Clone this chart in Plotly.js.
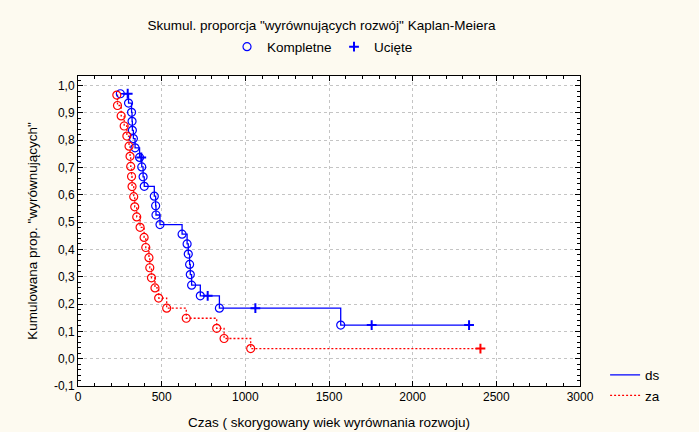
<!DOCTYPE html>
<html>
<head>
<meta charset="utf-8">
<script src="https://cdn.plot.ly/plotly-3.0.1.min.js"></script>
<style>
  html, body { margin: 0; padding: 0; background: #FDFAF0; }
  #chart { width: 699px; height: 432px; }
</style>
</head>
<body>
<div id="chart"></div>
<script>
// ---- data ----
// group "ds" (blue, solid)
const dsEventTimes = [253, 302, 320, 323, 325, 331, 341, 368, 381, 389, 396, 456, 464, 466, 490,
                      622, 652, 659, 667, 671, 679, 731, 845, 1570];
const dsEventSurv  = [0.970, 0.936, 0.902, 0.869, 0.836, 0.806, 0.772, 0.737, 0.702, 0.666, 0.631,
                      0.595, 0.560, 0.526, 0.491, 0.456, 0.420, 0.383, 0.345, 0.308, 0.269, 0.230,
                      0.185, 0.123];
const dsCensTimes  = [297, 378, 775, 1060, 1755, 2337];
const dsCensSurv   = [0.970, 0.737, 0.230, 0.185, 0.123, 0.123];

// group "za" (red, dotted)
const zaEventTimes = [232, 236, 258, 276, 292, 305, 311, 315, 320, 323, 333, 339, 351, 371, 395,
                      405, 424, 429, 439, 460, 482, 530, 647, 829, 873, 1032];
const zaEventSurv  = [0.965, 0.927, 0.889, 0.852, 0.815, 0.778, 0.741, 0.704, 0.667, 0.630, 0.593,
                      0.556, 0.519, 0.481, 0.444, 0.407, 0.370, 0.333, 0.296, 0.259, 0.222, 0.185,
                      0.148, 0.111, 0.074, 0.037];
const zaCensTimes  = [2405];
const zaCensSurv   = [0.037];

const yTickVals  = [-0.1, 0, 0.1, 0.2, 0.3, 0.4, 0.5, 0.6, 0.7, 0.8, 0.9, 1.0];
const yTickText  = ["-0,1", "0,0", "0,1", "0,2", "0,3", "0,4", "0,5", "0,6", "0,7", "0,8", "0,9", "1,0"];
const xTickVals  = [0, 500, 1000, 1500, 2000, 2500, 3000];
const xTickText  = ["0", "500", "1000", "1500", "2000", "2500", "3000"];

const titleText  = 'Skumul. proporcja "wyrównujących rozwój" Kaplan-Meiera';
const xTitleText = 'Czas ( skorygowany wiek wyrównania rozwoju)';
const yTitleText = 'Kumulowana prop. "wyrównujących"';

// ---- build step paths from the data ----
function stepPath(et, es, ct, cs) {
  const pts = [];
  et.forEach((t, i) => pts.push([t, es[i]]));
  ct.forEach((t, i) => pts.push([t, cs[i]]));
  pts.sort((a, b) => a[0] - b[0]);
  return { x: pts.map(p => p[0]), y: pts.map(p => p[1]) };
}
const dsPath = stepPath(dsEventTimes, dsEventSurv, dsCensTimes, dsCensSurv);
const zaPath = stepPath(zaEventTimes, zaEventSurv, zaCensTimes, zaCensSurv);

const BLUE = '#0000FF';
const RED  = '#FF0000';

const traces = [
  { x: dsPath.x, y: dsPath.y, mode: 'lines', name: 'ds', legend: 'legend',
    line: { color: BLUE, width: 1.3, shape: 'hv' }, hoverinfo: 'skip' },
  { x: zaPath.x, y: zaPath.y, mode: 'lines', name: 'za', legend: 'legend',
    line: { color: RED, width: 1.3, shape: 'hv', dash: '2px,2px' }, hoverinfo: 'skip' },
  { x: dsEventTimes, y: dsEventSurv, mode: 'markers', name: 'Kompletne', legend: 'legend2',
    marker: { symbol: 'circle-open', size: 8, color: BLUE, line: { width: 1.2, color: BLUE } } },
  { x: dsCensTimes, y: dsCensSurv, mode: 'markers', name: 'Ucięte', legend: 'legend2',
    marker: { symbol: 'cross-thin', size: 7, color: BLUE, line: { width: 2, color: BLUE } } },
  { x: zaEventTimes, y: zaEventSurv, mode: 'markers', showlegend: false,
    marker: { symbol: 'circle-open', size: 8, color: RED, line: { width: 1.2, color: RED } } },
  { x: zaCensTimes, y: zaCensSurv, mode: 'markers', showlegend: false,
    marker: { symbol: 'cross-thin', size: 7, color: RED, line: { width: 2, color: RED } } }
];

const FONT = 'Liberation Sans, Arial, sans-serif';

const layout = {
  width: 699, height: 432,
  paper_bgcolor: '#FDFAF0',
  plot_bgcolor: '#FFFFFF',
  font: { family: FONT, size: 12, color: '#000000' },
  margin: { l: 78, r: 119, t: 76, b: 46 },
  title: { text: titleText, x: 0.485, xref: 'paper', xanchor: 'center',
           y: 1 - 25 / 432, yref: 'container', yanchor: 'middle',
           font: { family: FONT, size: 13.5, color: '#000' } },
  xaxis: {
    range: [0, 3000], tickmode: 'array', tickvals: xTickVals, ticktext: xTickText,
    ticks: 'inside', ticklen: 5, tickcolor: '#000', tickwidth: 1,
    showline: true, linecolor: '#000', linewidth: 1, mirror: 'allticks',
    showgrid: true, gridcolor: '#C4C4C4', griddash: 'dot', gridwidth: 1,
    zeroline: false,
    minor: { dtick: 100, ticks: 'inside', ticklen: 3, tickcolor: '#000', showgrid: false },
    title: { text: xTitleText, standoff: 14, font: { family: FONT, size: 13.5 } }
  },
  yaxis: {
    range: [-0.1, 1.035], tickmode: 'array', tickvals: yTickVals, ticktext: yTickText,
    ticks: 'inside', ticklen: 5, tickcolor: '#000', tickwidth: 1,
    showline: true, linecolor: '#000', linewidth: 1, mirror: 'allticks',
    showgrid: true, gridcolor: '#C4C4C4', griddash: 'dot', gridwidth: 1,
    zeroline: false,
    minor: { dtick: 0.02, ticks: 'inside', ticklen: 3, tickcolor: '#000', showgrid: false },
    title: { text: yTitleText, standoff: 13, font: { family: FONT, size: 13.5 } }
  },
  legend: {
    x: 1.05, xanchor: 'left', y: 0.085, yanchor: 'top',
    bgcolor: 'rgba(0,0,0,0)', font: { family: FONT, size: 13.5 },
    tracegroupgap: 0
  },
  legend2: {
    orientation: 'h', x: 0.51, xanchor: 'center', y: 1.094, yanchor: 'middle',
    entrywidth: 62, entrywidthmode: 'pixels',
    bgcolor: 'rgba(0,0,0,0)', font: { family: FONT, size: 13.5 }
  },
  showlegend: true
};

Plotly.newPlot('chart', traces, layout, { displayModeBar: false, staticPlot: true });
</script>
</body>
</html>
